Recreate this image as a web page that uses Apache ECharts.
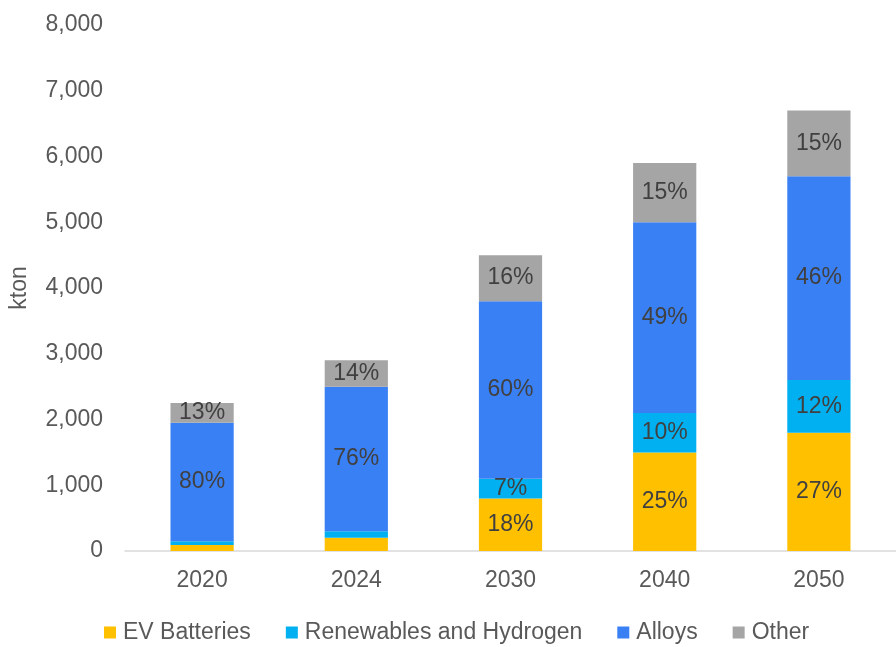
<!DOCTYPE html>
<html>
<head>
<meta charset="utf-8">
<script src="https://cdn.jsdelivr.net/npm/echarts@6/dist/echarts.min.js"></script>
<style>
  html, body { margin: 0; padding: 0; background: #fff; }
  #chart { width: 896px; height: 647px; }
</style>
</head>
<body>
<div id="chart"></div>
<script>
// Demand by end use, kton
const years = ['2020', '2024', '2030', '2040', '2050'];
const evBatteries = [90, 200, 800, 1500, 1800];
const renewablesHydrogen = [60, 100, 300, 600, 800];
const alloys = [1800, 2200, 2700, 2900, 3100];
const other = [300, 400, 700, 900, 1000];
const yTicks = [0, 1000, 2000, 3000, 4000, 5000, 6000, 7000, 8000];

const totals = years.map((_, i) => evBatteries[i] + renewablesHydrogen[i] + alloys[i] + other[i]);
const FONT = '"Liberation Sans", Arial, sans-serif';
const FS = 23;

function makeSeries(name, values, color) {
  return {
    name: name,
    type: 'bar',
    stack: 'total',
    barWidth: '41%',
    itemStyle: { color: color },
    data: values.map((v, i) => ({
      value: v,
      label: { show: v >= 300 }
    })),
    label: {
      position: 'inside',
      color: '#404040',
      fontSize: FS,
      fontFamily: FONT,
      formatter: p => Math.round(p.value / totals[p.dataIndex] * 100) + '%'
    }
  };
}

const chart = echarts.init(document.getElementById('chart'));
chart.setOption({
  animation: false,
  textStyle: { fontFamily: FONT },
  grid: { left: 125, right: 0, top: 25, bottom: 96, containLabel: false },
  legend: {
    top: 616,
    left: 99,
    itemWidth: 12,
    itemHeight: 12,
    itemGap: 35,
    icon: 'rect',
    textStyle: { color: '#595959', fontSize: FS, fontFamily: FONT, padding: [0, 0, 0, 2] },
    data: ['EV Batteries', 'Renewables and Hydrogen', 'Alloys', 'Other']
  },
  xAxis: {
    type: 'category',
    data: years,
    axisTick: { show: false },
    axisLine: { lineStyle: { color: '#D9D9D9', width: 1.5 } },
    axisLabel: { color: '#595959', fontSize: FS, margin: 18 }
  },
  yAxis: {
    type: 'value',
    min: yTicks[0],
    max: yTicks[yTicks.length - 1],
    interval: 1000,
    name: 'kton',
    nameLocation: 'middle',
    nameGap: 94,
    nameTextStyle: { color: '#595959', fontSize: FS },
    splitLine: { show: false },
    axisLine: { show: false },
    axisTick: { show: false },
    axisLabel: {
      color: '#595959',
      fontSize: FS,
      margin: 22,
      formatter: v => v.toLocaleString('en-US')
    }
  },
  series: [
    makeSeries('EV Batteries', evBatteries, '#FFC000'),
    makeSeries('Renewables and Hydrogen', renewablesHydrogen, '#00B0F0'),
    makeSeries('Alloys', alloys, '#3A80F5'),
    makeSeries('Other', other, '#A5A5A5')
  ]
});
</script>
</body>
</html>
